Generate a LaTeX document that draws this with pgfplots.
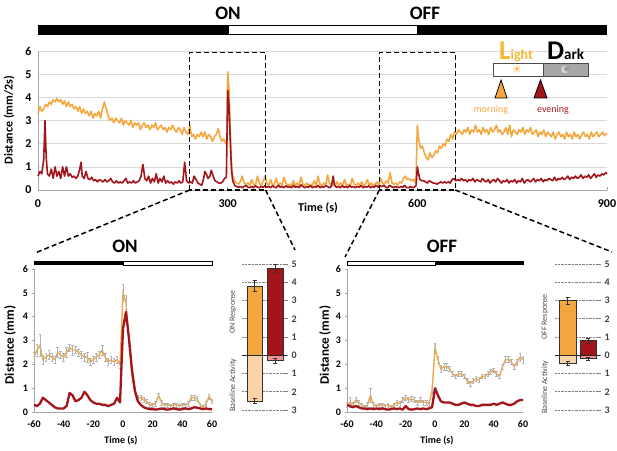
\documentclass[border=0pt]{standalone}
\usepackage{fontspec}
\setmainfont{Carlito}
\newfontfamily\djv{DejaVu Sans}
\usepackage{pgfplots}
\usepackage{pgfplotstable}
\pgfplotsset{compat=1.18}
\definecolor{morn}{HTML}{F5A73F}
\definecolor{even}{HTML}{A3151A}
\definecolor{peach}{HTML}{FAD4A8}
\definecolor{pinkb}{HTML}{F29393}
\definecolor{gridc}{HTML}{D9D9D9}
\definecolor{axc}{HTML}{A6A6A6}
\definecolor{lightc}{HTML}{F7B733}

\pgfplotstableread[row sep=\\]{t v e\\
-60 2.3 0.2\\ -58 2.6 0.25\\ -56 2.8 0.45\\ -54 2.2 0.2\\ -52 2.3 0.15\\ -50 2.4 0.2\\ -48 2.3 0.15\\ -46 2.2 0.15\\ -44 2.5 0.2\\ -42 2.4 0.15\\ -40 2.3 0.15\\ -38 2.5 0.2\\ -36 2.7 0.15\\ -34 2.6 0.2\\ -32 2.6 0.15\\ -30 2.5 0.15\\ -28 2.4 0.15\\ -26 2.3 0.15\\ -24 2.3 0.2\\ -22 2.1 0.15\\ -20 2.2 0.15\\ -18 2.3 0.15\\ -16 2.4 0.15\\ -14 2.6 0.2\\ -12 2.3 0.15\\ -10 2.1 0.15\\ -8 2.2 0.15\\ -6 2.1 0.15\\ -4 2.2 0.15\\ -2 2.0 0.15\\ 0 5.0 0.35\\ 2 4.6 0.3\\ 4 3.0 0.25\\ 6 1.5 0.2\\ 8 0.9 0.15\\ 10 0.6 0.1\\ 12 0.6 0.1\\ 14 0.5 0.1\\ 16 0.45 0.1\\ 18 0.3 0.1\\ 20 0.3 0.08\\ 22 0.35 0.1\\ 24 0.7 0.1\\ 26 0.4 0.1\\ 28 0.3 0.08\\ 30 0.3 0.08\\ 32 0.25 0.08\\ 34 0.3 0.08\\ 36 0.3 0.08\\ 38 0.25 0.08\\ 40 0.3 0.08\\ 42 0.3 0.08\\ 44 0.35 0.1\\ 46 0.6 0.1\\ 48 0.6 0.1\\ 50 0.55 0.1\\ 52 0.3 0.08\\ 54 0.2 0.08\\ 56 0.35 0.1\\ 58 0.65 0.1\\ 60 0.45 0.1\\
}\onmorn

\pgfplotstableread[row sep=\\]{t v\\
-60 0.3\\ -58 0.25\\ -56 0.35\\ -54 0.6\\ -52 0.5\\ -50 0.4\\ -48 0.3\\ -46 0.2\\ -44 0.15\\ -42 0.15\\ -40 0.15\\ -38 0.25\\ -36 0.8\\ -34 0.7\\ -32 0.45\\ -30 0.5\\ -28 0.6\\ -26 0.85\\ -24 0.7\\ -22 0.5\\ -20 0.4\\ -18 0.35\\ -16 0.35\\ -14 0.3\\ -12 0.3\\ -10 0.25\\ -8 0.3\\ -6 0.35\\ -4 0.6\\ -2 0.4\\ 0 3.5\\ 2 4.2\\ 4 3.1\\ 6 1.8\\ 8 0.9\\ 10 0.45\\ 12 0.3\\ 14 0.2\\ 16 0.15\\ 18 0.12\\ 20 0.12\\ 22 0.1\\ 24 0.12\\ 26 0.15\\ 28 0.12\\ 30 0.1\\ 32 0.12\\ 34 0.15\\ 36 0.12\\ 38 0.1\\ 40 0.12\\ 42 0.15\\ 44 0.12\\ 46 0.15\\ 48 0.2\\ 50 0.18\\ 52 0.15\\ 54 0.12\\ 56 0.15\\ 58 0.12\\ 60 0.12\\
}\oneven

\pgfplotstableread[row sep=\\]{t v e\\
-60 0.3 0.1\\ -58 0.4 0.2\\ -56 0.3 0.1\\ -54 0.5 0.1\\ -52 0.4 0.1\\ -50 0.3 0.08\\ -48 0.2 0.08\\ -46 0.3 0.1\\ -44 0.7 0.3\\ -42 0.3 0.1\\ -40 0.25 0.08\\ -38 0.3 0.08\\ -36 0.3 0.08\\ -34 0.25 0.08\\ -32 0.3 0.08\\ -30 0.2 0.08\\ -28 0.3 0.08\\ -26 0.4 0.1\\ -24 0.35 0.1\\ -22 0.5 0.1\\ -20 0.6 0.1\\ -18 0.5 0.1\\ -16 0.55 0.1\\ -14 0.5 0.1\\ -12 0.4 0.1\\ -10 0.5 0.1\\ -8 0.4 0.1\\ -6 0.4 0.1\\ -4 0.35 0.1\\ -2 0.9 0.15\\ 0 2.7 0.2\\ 2 2.2 0.15\\ 4 1.8 0.15\\ 6 1.9 0.15\\ 8 1.9 0.15\\ 10 1.8 0.1\\ 12 1.6 0.1\\ 14 1.5 0.1\\ 16 1.6 0.1\\ 18 1.6 0.1\\ 20 1.5 0.1\\ 22 1.3 0.1\\ 24 1.2 0.1\\ 26 1.3 0.1\\ 28 1.4 0.1\\ 30 1.35 0.1\\ 32 1.5 0.1\\ 34 1.5 0.1\\ 36 1.6 0.1\\ 38 1.7 0.1\\ 40 1.75 0.1\\ 42 1.6 0.1\\ 44 1.5 0.1\\ 46 1.9 0.1\\ 48 2.2 0.12\\ 50 2.2 0.12\\ 52 2.1 0.1\\ 54 1.9 0.12\\ 56 2.1 0.12\\ 58 2.3 0.15\\ 60 2.2 0.15\\
}\offmorn

\pgfplotstableread[row sep=\\]{t v\\
-60 0.3\\ -58 0.25\\ -56 0.2\\ -54 0.25\\ -52 0.2\\ -50 0.15\\ -48 0.15\\ -46 0.12\\ -44 0.15\\ -42 0.12\\ -40 0.15\\ -38 0.12\\ -36 0.15\\ -34 0.12\\ -32 0.1\\ -30 0.12\\ -28 0.15\\ -26 0.12\\ -24 0.15\\ -22 0.1\\ -20 0.25\\ -18 0.12\\ -16 0.1\\ -14 0.12\\ -12 0.15\\ -10 0.12\\ -8 0.15\\ -6 0.12\\ -4 0.15\\ -2 0.2\\ 0 1.0\\ 2 0.7\\ 4 0.45\\ 6 0.4\\ 8 0.4\\ 10 0.4\\ 12 0.35\\ 14 0.3\\ 16 0.3\\ 18 0.35\\ 20 0.4\\ 22 0.35\\ 24 0.3\\ 26 0.3\\ 28 0.25\\ 30 0.25\\ 32 0.3\\ 34 0.3\\ 36 0.3\\ 38 0.3\\ 40 0.35\\ 42 0.3\\ 44 0.35\\ 46 0.4\\ 48 0.35\\ 50 0.3\\ 52 0.3\\ 54 0.35\\ 56 0.45\\ 58 0.5\\ 60 0.5\\
}\offeven

\begin{document}
\begin{tikzpicture}
\useasboundingbox (0pt,0pt) rectangle (617pt,450pt);

% ---------------- top panel ----------------
\begin{axis}[
  at={(38pt,260pt)}, anchor=south west,
  scale only axis, width=569pt, height=139pt,
  xmin=0, xmax=900, ymin=0, ymax=6,
  xtick={0,300,600,900}, ytick={0,1,...,6},
  ymajorgrids, major grid style={gridc, line width=0.6pt},
  axis x line*=bottom, axis y line*=left,
  axis line style={-, axc, line width=0.8pt},
  tick style={axc, line width=0.6pt}, major tick length=3pt, tick align=inside,
  ytick style={draw=none},
  /pgf/number format/assume math mode=true,
  ticklabel style={font=\bfseries\fontsize{12}{12}\selectfont},
  yticklabel style={xshift=-3pt},
  xticklabel style={yshift=-6pt},
  clip=false,
]
\addplot[morn, line width=1.6pt, line join=round] coordinates {(0,3.3)(3,3.6)(6,3.4)(9,3.5)(12,3.7)(15,3.6)(18,3.8)(21,3.7)(24,3.9)(27,3.8)(30,3.95)(33,3.8)(36,3.9)(39,3.7)(42,3.85)(45,3.6)(48,3.8)(51,3.6)(54,3.7)(57,3.5)(60,3.6)(63,3.4)(66,3.6)(69,3.3)(72,3.5)(75,3.3)(78,3.4)(81,3.2)(84,3.4)(87,3.1)(90,3.3)(93,3.2)(96,3.4)(99,3.1)(102,3.5)(105,3.8)(108,3.5)(111,3.2)(114,3.0)(117,3.1)(120,2.9)(123,3.1)(126,3.0)(129,2.9)(132,3.1)(135,2.8)(138,3.0)(141,2.9)(144,2.8)(147,3.0)(150,2.7)(153,2.9)(156,2.8)(159,2.9)(162,2.6)(165,2.8)(168,2.9)(171,2.7)(174,2.8)(177,2.6)(180,2.8)(183,2.7)(186,2.9)(189,2.6)(192,2.7)(195,2.8)(198,2.6)(201,2.7)(204,2.5)(207,2.7)(210,2.6)(213,2.8)(216,2.6)(219,2.5)(222,2.7)(225,2.6)(228,2.4)(231,2.7)(234,2.5)(237,2.4)(240,2.8)(243,2.3)(246,2.4)(249,2.2)(252,2.4)(255,2.3)(258,2.5)(261,2.3)(264,2.5)(267,2.2)(270,2.4)(273,2.3)(276,2.1)(279,2.3)(282,2.4)(285,2.65)(288,2.3)(291,2.1)(294,2.2)(297,2.0)(299,2.0)(300,5.1)(302,4.4)(304,2.6)(306,1.2)(308,0.6)(311,0.4)(314,0.3)(317,0.25)(320,0.35)(323,0.6)(326,0.3)(329,0.25)(332,0.3)(335,0.2)(338,0.45)(341,0.25)(344,0.2)(347,0.6)(350,0.3)(353,0.2)(356,0.35)(359,0.6)(362,0.3)(365,0.2)(368,0.45)(371,0.2)(374,0.25)(377,0.5)(380,0.2)(383,0.3)(386,0.2)(389,0.55)(392,0.3)(395,0.2)(398,0.25)(401,0.2)(404,0.4)(407,0.2)(410,0.3)(413,0.2)(416,0.55)(419,0.25)(422,0.2)(425,0.3)(428,0.2)(431,0.25)(434,0.2)(437,0.4)(440,0.2)(443,0.6)(446,0.25)(449,0.2)(452,0.3)(455,0.2)(458,0.65)(461,0.3)(464,0.2)(467,0.25)(470,0.2)(473,0.35)(476,0.2)(479,0.3)(482,0.2)(485,0.45)(488,0.2)(491,0.25)(494,0.2)(497,0.5)(500,0.25)(503,0.2)(506,0.3)(509,0.2)(512,0.35)(515,0.2)(518,0.25)(521,0.45)(524,0.2)(527,0.3)(530,0.2)(533,0.25)(536,0.35)(539,0.2)(542,0.5)(545,0.3)(548,0.25)(551,0.4)(554,0.3)(557,0.75)(560,0.3)(563,0.25)(566,0.3)(569,0.2)(572,0.35)(575,0.3)(578,0.5)(581,0.6)(584,0.45)(587,0.5)(590,0.4)(593,0.45)(596,0.35)(598,0.6)(600,2.8)(602,2.2)(605,1.8)(608,1.9)(611,1.6)(614,1.4)(617,1.3)(620,1.6)(623,1.4)(626,1.5)(629,1.7)(632,1.6)(635,1.9)(638,1.8)(641,2.0)(644,1.9)(647,2.2)(650,2.1)(653,2.4)(656,2.2)(659,2.5)(662,2.4)(665,2.6)(668,2.5)(671,2.4)(674,2.6)(677,2.5)(680,2.7)(683,2.4)(686,2.6)(689,2.5)(692,2.8)(695,2.5)(698,2.6)(701,2.4)(704,2.7)(707,2.5)(710,2.6)(713,2.4)(716,2.7)(719,2.5)(722,2.6)(725,2.8)(728,2.5)(731,2.6)(734,2.4)(737,2.5)(740,2.7)(743,2.4)(746,2.8)(749,2.3)(752,2.6)(755,2.5)(758,2.4)(761,2.6)(764,2.5)(767,2.7)(770,2.4)(773,2.6)(776,2.5)(779,2.7)(782,2.4)(785,2.5)(788,2.6)(791,2.3)(794,2.5)(797,2.4)(800,2.6)(803,2.3)(806,2.5)(809,2.4)(812,2.3)(815,2.5)(818,2.2)(821,2.4)(824,2.5)(827,2.3)(830,2.4)(833,2.2)(836,2.5)(839,2.3)(842,2.4)(845,2.2)(848,2.5)(851,2.3)(854,2.4)(857,2.2)(860,2.4)(863,2.5)(866,2.3)(869,2.4)(872,2.2)(875,2.5)(878,2.3)(881,2.4)(884,2.5)(887,2.3)(890,2.4)(893,2.5)(896,2.35)(900,2.45)};
\addplot[even, line width=1.6pt, line join=round] coordinates {(0,0.6)(3,0.8)(6,0.7)(9,1.3)(11,3.0)(13,1.4)(15,0.7)(18,0.6)(21,0.9)(24,0.5)(27,1.0)(30,0.6)(33,0.8)(36,0.5)(39,1.0)(42,0.6)(45,1.0)(48,0.6)(51,0.7)(54,0.55)(57,0.6)(60,0.5)(63,0.6)(66,0.9)(68,1.2)(70,0.6)(73,0.5)(76,0.8)(79,0.5)(82,0.45)(85,0.55)(88,0.4)(91,0.45)(94,0.35)(97,0.45)(100,0.4)(103,0.35)(106,0.45)(109,0.35)(112,0.4)(115,0.5)(118,0.35)(121,0.3)(124,0.4)(127,0.3)(130,0.35)(133,0.3)(136,0.4)(139,0.5)(142,0.3)(145,0.35)(148,0.3)(151,0.4)(154,0.3)(157,0.35)(160,0.4)(163,0.6)(166,1.1)(169,0.5)(172,0.4)(175,0.6)(178,0.3)(181,0.5)(184,0.35)(187,0.7)(190,0.3)(193,0.5)(196,0.35)(199,0.6)(202,0.3)(205,0.4)(208,0.3)(211,0.35)(214,0.25)(217,0.35)(220,0.3)(223,0.4)(226,0.3)(229,0.35)(232,1.2)(235,0.4)(238,0.3)(241,0.35)(244,0.3)(247,0.6)(250,0.45)(253,0.3)(256,0.25)(259,0.2)(262,0.5)(264,0.8)(266,0.7)(269,0.5)(272,0.6)(274,0.85)(277,0.6)(280,0.4)(283,0.35)(286,0.3)(289,0.3)(292,0.35)(295,0.5)(298,0.55)(300,4.3)(302,3.7)(304,2.2)(306,0.9)(308,0.4)(311,0.2)(314,0.15)(317,0.12)(320,0.15)(323,0.1)(326,0.15)(329,0.2)(332,0.12)(335,0.1)(338,0.15)(341,0.1)(344,0.18)(347,0.12)(350,0.1)(353,0.15)(356,0.12)(359,0.18)(362,0.12)(365,0.15)(368,0.1)(371,0.18)(374,0.12)(377,0.1)(380,0.2)(383,0.12)(386,0.15)(389,0.1)(392,0.18)(395,0.12)(398,0.15)(401,0.1)(404,0.2)(407,0.12)(410,0.15)(413,0.1)(416,0.22)(419,0.15)(422,0.1)(425,0.15)(428,0.12)(431,0.18)(434,0.1)(437,0.15)(440,0.12)(443,0.2)(446,0.1)(449,0.15)(452,0.12)(455,0.18)(458,0.15)(461,0.1)(464,0.15)(467,0.6)(469,0.2)(472,0.12)(475,0.15)(478,0.1)(481,0.18)(484,0.12)(487,0.15)(490,0.1)(493,0.2)(496,0.12)(499,0.15)(502,0.1)(505,0.15)(508,0.12)(511,0.2)(514,0.1)(517,0.15)(520,0.12)(523,0.18)(526,0.1)(529,0.15)(532,0.12)(535,0.2)(538,0.12)(541,0.18)(544,0.15)(547,0.2)(550,0.12)(553,0.1)(556,0.2)(559,0.15)(562,0.1)(565,0.15)(568,0.12)(571,0.1)(574,0.15)(577,0.12)(580,0.2)(583,0.1)(586,0.1)(589,0.15)(592,0.1)(595,0.12)(598,0.2)(600,1.0)(602,0.7)(604,0.45)(607,0.4)(610,0.4)(613,0.35)(616,0.3)(619,0.4)(622,0.35)(625,0.3)(628,0.3)(631,0.25)(634,0.3)(637,0.35)(640,0.3)(643,0.35)(646,0.3)(649,0.35)(652,0.3)(655,0.45)(658,0.5)(661,0.4)(664,0.45)(667,0.4)(670,0.5)(673,0.4)(676,0.45)(679,0.35)(682,0.45)(685,0.4)(688,0.5)(691,0.35)(694,0.45)(697,0.4)(700,0.35)(703,0.5)(706,0.4)(709,0.35)(712,0.45)(715,0.3)(718,0.4)(721,0.45)(724,0.35)(727,0.5)(730,0.4)(733,0.3)(736,0.4)(739,0.35)(742,0.45)(745,0.3)(748,0.4)(751,0.35)(754,0.45)(757,0.3)(760,0.4)(763,0.35)(766,0.5)(769,0.3)(772,0.4)(775,0.45)(778,0.35)(781,0.4)(784,0.5)(787,0.35)(790,0.45)(793,0.4)(796,0.5)(799,0.35)(802,0.45)(805,0.4)(808,0.5)(811,0.45)(814,0.4)(817,0.55)(820,0.4)(823,0.5)(826,0.45)(829,0.55)(832,0.45)(835,0.5)(838,0.6)(841,0.45)(844,0.55)(847,0.5)(850,0.6)(853,0.5)(856,0.55)(859,0.65)(862,0.5)(865,0.6)(868,0.55)(871,0.65)(874,0.5)(877,0.6)(880,0.7)(883,0.55)(886,0.65)(889,0.6)(892,0.7)(895,0.65)(898,0.75)(900,0.7)};
\draw[black, line width=1.5pt, dash pattern=on 5pt off 3pt] (axis cs:240,0) rectangle (axis cs:360,5.93);
\draw[black, line width=1.5pt, dash pattern=on 5pt off 3pt] (axis cs:540,0) rectangle (axis cs:660,5.93);
\coordinate (A1) at (axis cs:240,0);
\coordinate (A2) at (axis cs:360,0);
\coordinate (B1) at (axis cs:540,0);
\coordinate (B2) at (axis cs:660,0);
\end{axis}

% ---------------- bottom left (ON) ----------------
\begin{axis}[
  at={(34pt,38pt)}, anchor=south west,
  scale only axis, width=178pt, height=143pt,
  xmin=-60, xmax=60, ymin=0, ymax=6,
  xtick={-60,-40,-20,0,20,40,60}, xticklabels={-60,-40,-20,0,20,40,60},
  ytick={0,1,...,6},
  axis x line*=bottom, axis y line*=left,
  axis line style={-, axc, line width=0.8pt},
  tick style={axc, line width=0.6pt}, major tick length=2.5pt, tick align=outside,
  xtick style={draw=none},
  /pgf/number format/assume math mode=true,
  ticklabel style={font=\bfseries\fontsize{10}{10}\selectfont},
  xticklabel style={yshift=-3pt},
  clip=false,
]
\addplot[morn, line width=1.4pt, error bars/.cd, y dir=both, y explicit,
  error bar style={gray!60, line width=0.5pt},
  error mark options={gray!60, mark size=1.3pt, line width=0.5pt, rotate=90}]
  table[x=t, y=v, y error=e]{\onmorn};
\addplot[even, line width=2.3pt, line join=round] table[x=t, y=v]{\oneven};
\end{axis}

% ---------------- bottom right (OFF) ----------------
\begin{axis}[
  at={(347pt,38pt)}, anchor=south west,
  scale only axis, width=176pt, height=143pt,
  xmin=-60, xmax=60, ymin=0, ymax=6,
  xtick={-60,-40,-20,0,20,40,60}, xticklabels={-60,-40,-20,0,20,40,60},
  ytick={0,1,...,6},
  axis x line*=bottom, axis y line*=left,
  axis line style={-, axc, line width=0.8pt},
  tick style={axc, line width=0.6pt}, major tick length=2.5pt, tick align=outside,
  xtick style={draw=none},
  /pgf/number format/assume math mode=true,
  ticklabel style={font=\bfseries\fontsize{10}{10}\selectfont},
  xticklabel style={yshift=-3pt},
  clip=false,
]
\addplot[morn, line width=1.4pt, error bars/.cd, y dir=both, y explicit,
  error bar style={gray!60, line width=0.5pt},
  error mark options={gray!60, mark size=1.3pt, line width=0.5pt, rotate=90}]
  table[x=t, y=v, y error=e]{\offmorn};
\addplot[even, line width=2.3pt, line join=round] table[x=t, y=v]{\offeven};
\end{axis}

% ---------------- inset ON bars ----------------
\begin{axis}[
  at={(242pt,40pt)}, anchor=south west,
  scale only axis, width=45pt, height=146pt,
  xmin=242, xmax=287, ymin=-3, ymax=5,
  hide x axis, axis y line*=right, y axis line style={draw=none},
  ytick={-3,-2,...,5}, yticklabels={3,2,1,0,1,2,3,4,5},
  ymajorgrids, major grid style={densely dotted, gray, line width=0.6pt},
  tick style={gray, solid, line width=0.6pt}, major tick length=4pt, tick align=inside,
  /pgf/number format/assume math mode=true,
  ticklabel style={font=\bfseries\fontsize{10}{10}\selectfont, text=black!75},
  yticklabel style={xshift=1pt},
  ybar, clip=false,
]
\addplot[fill=peach, draw=black!80, line width=0.5pt, bar width=15.5, bar shift=0pt,
  error bars/.cd, y dir=both, y explicit, error bar style={black!80, line width=0.5pt}]
  coordinates {(254.5,-2.5) +- (0,0.15)};
\addplot[fill=pinkb, draw=black!80, line width=0.5pt, bar width=16, bar shift=0pt,
  error bars/.cd, y dir=both, y explicit, error bar style={black!80, line width=0.5pt}]
  coordinates {(275,-0.3) +- (0,0.12)};
\addplot[fill=morn, draw=black!80, line width=0.5pt, bar width=15.5, bar shift=0pt,
  error bars/.cd, y dir=both, y explicit, error bar style={black!80, line width=0.5pt}]
  coordinates {(254.5,3.8) +- (0,0.3)};
\addplot[fill=even, draw=black!80, line width=0.5pt, bar width=16, bar shift=0pt,
  error bars/.cd, y dir=both, y explicit, error bar style={black!80, line width=0.5pt}]
  coordinates {(275,4.78) +- (0,0.22)};
\draw[black!85, line width=0.9pt] (axis cs:242,0) -- (axis cs:287,0);
\end{axis}

% ---------------- inset OFF bars ----------------
\begin{axis}[
  at={(555pt,40pt)}, anchor=south west,
  scale only axis, width=45pt, height=146pt,
  xmin=555, xmax=600, ymin=-3, ymax=5,
  hide x axis, axis y line*=right, y axis line style={draw=none},
  ytick={-3,-2,...,5}, yticklabels={3,2,1,0,1,2,3,4,5},
  ymajorgrids, major grid style={densely dotted, gray, line width=0.6pt},
  tick style={gray, solid, line width=0.6pt}, major tick length=4pt, tick align=inside,
  /pgf/number format/assume math mode=true,
  ticklabel style={font=\bfseries\fontsize{10}{10}\selectfont, text=black!75},
  yticklabel style={xshift=1pt},
  ybar, clip=false,
]
\addplot[fill=peach, draw=black!80, line width=0.5pt, bar width=17, bar shift=0pt,
  error bars/.cd, y dir=both, y explicit, error bar style={black!80, line width=0.5pt}]
  coordinates {(567.5,-0.42) +- (0,0.1)};
\addplot[fill=pinkb, draw=black!80, line width=0.5pt, bar width=16, bar shift=0pt,
  error bars/.cd, y dir=both, y explicit, error bar style={black!80, line width=0.5pt}]
  coordinates {(588,-0.18) +- (0,0.08)};
\addplot[fill=morn, draw=black!80, line width=0.5pt, bar width=17, bar shift=0pt,
  error bars/.cd, y dir=both, y explicit, error bar style={black!80, line width=0.5pt}]
  coordinates {(567.5,3.0) +- (0,0.2)};
\addplot[fill=even, draw=black!80, line width=0.5pt, bar width=16, bar shift=0pt,
  error bars/.cd, y dir=both, y explicit, error bar style={black!80, line width=0.5pt}]
  coordinates {(588,0.8) +- (0,0.15)};
\draw[black!85, line width=0.9pt] (axis cs:555,0) -- (axis cs:600,0);
\end{axis}

% ---------------- decorations ----------------
% top light bar
\fill[black] (38pt,415pt) rectangle (228pt,425pt);
\draw[black, fill=white, line width=0.6pt] (228pt,415.3pt) rectangle (417pt,424.7pt);
\fill[black] (417pt,415pt) rectangle (607pt,425pt);
\node[font=\bfseries\fontsize{19}{19}\selectfont] at (228pt,437pt) {ON};
\node[font=\bfseries\fontsize{19}{19}\selectfont] at (425pt,437pt) {OFF};

% bottom light bars
\fill[black] (34pt,185pt) rectangle (123pt,189pt);
\draw[black, fill=white, line width=0.5pt] (123pt,185.2pt) rectangle (212pt,188.8pt);
\draw[black, fill=white, line width=0.5pt] (347pt,185.2pt) rectangle (435pt,188.8pt);
\fill[black] (435pt,185pt) rectangle (524pt,189pt);
\node[font=\bfseries\fontsize{19}{19}\selectfont] at (125pt,204pt) {ON};
\node[font=\bfseries\fontsize{19}{19}\selectfont] at (442pt,204pt) {OFF};

% connectors
\draw[black, line width=1.5pt, dash pattern=on 5pt off 3pt] (A1) -- (35pt,197pt);
\draw[black, line width=1.5pt, dash pattern=on 5pt off 3pt] (A2) -- (295pt,200pt);
\draw[black, line width=1.5pt, dash pattern=on 5pt off 3pt] (B1) -- (345pt,193pt);
\draw[black, line width=1.5pt, dash pattern=on 5pt off 3pt] (B2) -- (612pt,198pt);

% axis labels
\node[font=\bfseries\fontsize{12}{12}\selectfont, rotate=90] at (9pt,330pt) {Distance (mm/2s)};
\node[font=\bfseries\fontsize{12}{12}\selectfont] at (318pt,242pt) {Time (s)};
\node[font=\bfseries\fontsize{13}{13}\selectfont, rotate=90] at (10pt,105pt) {Distance (mm)};
\node[font=\bfseries\fontsize{10}{10}\selectfont] at (121pt,9pt) {Time (s)};
\node[font=\bfseries\fontsize{13}{13}\selectfont, rotate=90] at (325pt,105pt) {Distance (mm)};
\node[font=\bfseries\fontsize{10}{10}\selectfont] at (437pt,9pt) {Time (s)};

% inset labels
\node[font=\fontsize{8}{8}\selectfont, text=black!70, rotate=90] at (233pt,138pt) {ON Response};
\node[font=\fontsize{8}{8}\selectfont, text=black!70, rotate=90] at (233pt,65pt) {Baseline Activity};
\node[font=\fontsize{8}{8}\selectfont, text=black!70, rotate=90] at (545pt,133pt) {OFF Response};
\node[font=\fontsize{8}{8}\selectfont, text=black!70, rotate=90] at (545pt,63pt) {Baseline Activity};

% legend
\node[anchor=base west, inner sep=0pt, text=lightc, font=\bfseries] at (499pt,390pt) {{\fontsize{27}{27}\selectfont L}{\fontsize{14}{14}\selectfont ight}};
\node[anchor=base west, inner sep=0pt, text=black, font=\bfseries] at (547pt,390pt) {{\fontsize{27}{27}\selectfont D}{\fontsize{15}{15}\selectfont ark}};
\draw[black!70, fill=white, line width=0.7pt] (493pt,374pt) rectangle (543pt,387pt);
\draw[black!70, fill=black!35, line width=0.7pt] (543pt,374pt) rectangle (588pt,387pt);
\node[text=lightc, font=\djv\fontsize{11}{11}\selectfont, inner sep=0pt] at (517pt,380.5pt) {☀};
\fill[black!15] (565pt,380.5pt) circle (3.8pt);
\fill[black!40] (566.6pt,381pt) circle (2.7pt);
\draw[black, fill=morn, line width=0.8pt] (495pt,352pt) -- (507pt,352pt) -- (501pt,370pt) -- cycle;
\draw[black, fill=even, line width=0.8pt] (534pt,352pt) -- (547pt,352pt) -- (540.5pt,370pt) -- cycle;
\node[text=morn, font=\fontsize{10}{10}\selectfont] at (491pt,340pt) {morning};
\node[text=even, font=\fontsize{10}{10}\selectfont] at (553pt,340pt) {evening};
\end{tikzpicture}
\end{document}
